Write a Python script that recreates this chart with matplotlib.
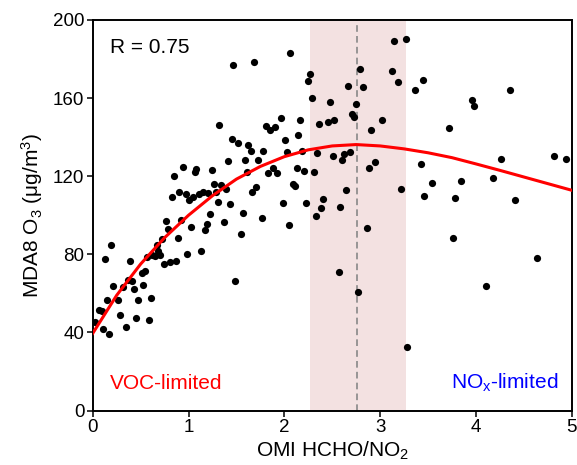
import matplotlib
matplotlib.use("Agg")
import matplotlib.pyplot as plt

plt.rcParams["font.family"] = ["Liberation Sans", "DejaVu Sans"]
plt.rcParams["mathtext.default"] = "regular"

# scatter: OMI HCHO/NO2 ratio vs MDA8 O3
ratio = [
    0.946, 0.846, 1.078, 1.068, 1.245, 1.266, 0.828, 0.904, 0.971, 1.008,
    1.050, 1.106, 1.154, 1.207, 1.305, 1.224, 1.190, 1.169, 1.026, 0.922,
    0.768, 0.786, 0.887, 0.723, 0.668, 0.685, 0.653, 0.706, 0.744, 0.807,
    0.870, 0.987, 1.130, 0.564, 0.619, 0.515, 0.549, 0.528, 0.609, 0.389,
    0.188, 0.128, 0.368, 0.410, 0.313, 0.209, 0.428, 0.267, 0.470, 0.152,
    0.066, 0.097, 0.285, 0.452, 0.588, 0.348, 0.027, 0.111, 0.170, 1.318,
    2.063, 1.468, 1.687, 2.268, 2.244, 2.286, 2.477, 1.966, 1.809, 1.851,
    1.906, 2.164, 2.365, 2.459, 2.146, 2.007, 1.451, 1.520, 1.624, 1.649,
    1.781, 1.409, 1.587, 1.725, 2.025, 2.185, 2.344, 1.608, 1.833, 1.879,
    1.927, 2.129, 2.206, 2.307, 1.339, 1.388, 1.666, 1.705, 2.088, 2.112,
    2.409, 1.287, 1.430, 1.367, 1.569, 1.548, 1.767, 1.986, 2.046, 2.227,
    1.485, 2.328, 2.386,
    3.145, 3.267, 2.787, 3.124, 3.187, 2.665, 2.825, 3.445, 3.367, 2.745,
    2.704, 2.724, 2.522, 3.023, 2.905, 3.719, 2.505, 2.605, 2.626, 2.686,
    2.887, 2.947, 3.424, 2.644, 3.221, 3.542, 3.461, 2.585, 2.866, 2.568,
    2.766, 3.284,
    4.359, 3.962, 3.983, 4.259, 4.818, 4.941, 3.841, 4.182, 3.782, 4.405,
    3.764, 4.641, 4.105,
]
o3 = [
    124.7, 119.9, 123.7, 122.1, 123.0, 115.8, 109.3, 112.1, 111.0, 107.6,
    109.6, 110.7, 111.7, 111.4, 106.6, 100.6, 95.6, 92.4, 94.1, 97.5,
    97.3, 93.1, 88.3, 87.8, 84.9, 81.9, 79.1, 79.7, 74.8, 76.0,
    76.7, 80.4, 81.6, 78.6, 79.7, 70.4, 71.5, 64.5, 57.8, 76.5,
    84.7, 77.8, 66.6, 66.3, 63.2, 64.0, 62.2, 56.7, 56.7, 56.5,
    51.5, 50.9, 49.0, 47.6, 46.1, 42.8, 45.5, 41.6, 39.4, 146.4,
    183.2, 177.0, 178.7, 172.1, 168.6, 160.3, 158.2, 149.8, 145.9, 143.8,
    145.2, 148.8, 146.9, 147.9, 140.9, 138.4, 139.1, 137.0, 136.0, 133.1,
    132.7, 127.8, 128.1, 128.5, 132.2, 133.1, 131.7, 122.3, 121.6, 124.2,
    121.6, 124.0, 122.5, 122.3, 115.6, 113.4, 111.9, 114.5, 116.0, 114.8,
    108.3, 112.1, 105.9, 96.3, 101.4, 90.4, 98.6, 106.3, 94.8, 106.3,
    66.3, 99.6, 103.7,
    189.1, 190.5, 175.0, 173.7, 168.3, 166.4, 165.9, 169.1, 164.0, 157.2,
    152.1, 150.4, 148.8, 148.6, 143.8, 144.5, 130.2, 128.3, 131.4, 132.6,
    124.2, 127.1, 126.3, 113.1, 113.6, 116.3, 110.0, 104.2, 93.6, 71.0,
    60.6, 32.7,
    164.2, 159.1, 155.8, 129.0, 130.5, 128.6, 117.7, 118.9, 108.6, 107.8,
    88.5, 78.1, 63.8,
]

# fitted curve
fit_x = [0.0, 0.25, 0.5, 0.75, 1.0, 1.25, 1.5, 1.75, 2.0, 2.25, 2.5,
         2.75, 3.0, 3.25, 3.5, 3.75, 4.0, 4.25, 4.5, 4.75, 5.0]
fit_y = [39.5, 59.0, 75.0, 88.5, 100.0, 110.0, 118.5, 125.0, 130.0, 133.5, 135.5,
         136.2, 135.5, 134.0, 132.0, 129.5, 126.3, 123.0, 119.6, 116.2, 112.8]

# transition regime
band = (2.27, 3.27)
center = 2.76

fig = plt.figure(figsize=(5.77, 4.65), dpi=100)
ax = fig.add_axes([0.1607, 0.1172, 0.8301, 0.8398])

ax.axvspan(band[0], band[1], color="#f3e1e1", lw=0, zorder=0)
ax.axvline(center, color="#888888", lw=1.2, ls=(0, (4, 2.5)), zorder=1)
ax.scatter(ratio, o3, s=27, color="black", lw=0, zorder=2)
ax.plot(fit_x, fit_y, color="red", lw=2.2, zorder=3)

ax.set_xlim(0, 5)
ax.set_ylim(0, 200)
ax.set_xticks([0, 1, 2, 3, 4, 5])
ax.set_yticks([0, 40, 80, 120, 160, 200])
ax.tick_params(direction="out", length=4, width=1.1, labelsize=13.5, pad=2,
               top=False, right=False)
for sp in ax.spines.values():
    sp.set_linewidth(1.4)

ax.set_xlabel("OMI HCHO/NO$_2$", fontsize=15, labelpad=3)
ax.set_ylabel("MDA8 O$_3$ (μg/m$^3$)", fontsize=15, labelpad=6)

ax.text(0.18, 186, "R = 0.75", fontsize=15, va="center", ha="left")
ax.text(0.18, 14, "VOC-limited", fontsize=15, color="red", va="center", ha="left")
ax.text(4.86, 14, "NO$_x$-limited", fontsize=15, color="blue", va="center", ha="right")

fig.savefig("out.png", dpi=100)
